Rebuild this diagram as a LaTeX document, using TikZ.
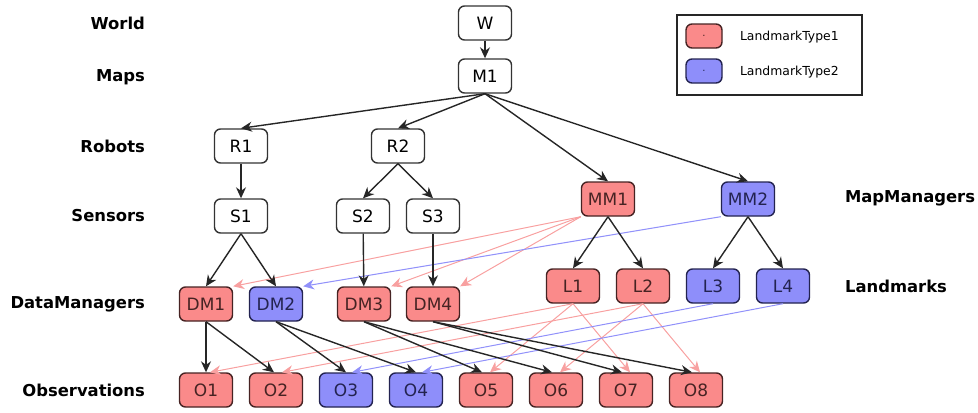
\documentclass[tikz,border=0pt]{standalone}
\usepackage{fontspec}
\setmainfont{DejaVu Sans}
\usetikzlibrary{positioning,arrows.meta}
\definecolor{redfill}{RGB}{250,138,138}
\definecolor{bluefill}{RGB}{142,142,250}
\definecolor{reddraw}{RGB}{70,35,35}
\definecolor{bluedraw}{RGB}{35,35,80}
\definecolor{redline}{RGB}{248,160,160}
\definecolor{blueline}{RGB}{145,145,250}
\tikzstyle{entity} = [rectangle, rounded corners=3pt, minimum width=26.5pt, minimum height=17pt, inner sep=1pt,
                      text centered, draw=black!80, line width=0.7pt, fill=white, font=\fontsize{8.5}{10}\selectfont]
\tikzstyle{typeone} = [entity, fill=redfill, draw=reddraw, text=reddraw]
\tikzstyle{typetwo} = [entity, fill=bluefill, draw=bluedraw, text=bluedraw]
\tikzstyle{level} = [font=\bfseries\fontsize{8.2}{9}\selectfont]
\tikzstyle{arrow} = [line width=0.7pt, black!85, -{Stealth[length=5.5pt,width=5pt]}]
\tikzstyle{redarrow} = [line width=0.5pt, redline, -{Stealth[length=5.5pt,width=5pt]}]
\tikzstyle{bluearrow} = [line width=0.5pt, blueline, -{Stealth[length=5.5pt,width=5pt]}]
\begin{document}
\begin{tikzpicture}[x=0.5pt, y=-0.5pt]
		\useasboundingbox (0,0) rectangle (978,412);

		% Level labels
		\node (lworld) [level, anchor=east] at (152,23) {World};
		\node (lmaps) [level, anchor=east] at (152,77) {Maps};
		\node (lrobots) [level, anchor=east] at (152,146) {Robots};
		\node (lsensors) [level, anchor=east] at (152,216) {Sensors};
		\node (ldata) [level, anchor=east] at (152,304) {DataManagers};
		\node (lobs) [level, anchor=east] at (152,390) {Observations};
		\node (lmapman) [level, anchor=west] at (838,198) {MapManagers};
		\node (llandm) [level, anchor=west] at (838,286) {Landmarks};

		% Legend
		\node (legend) [draw=black!85, line width=0.7pt, minimum width=92.5pt, minimum height=40pt] at (769.5,55) {};
		\node (keyone) [typeone, minimum width=18pt, minimum height=12pt] at (704,36) {\tiny .};
		\node (keytwo) [typetwo, minimum width=18pt, minimum height=12pt] at (704,71) {\tiny .};
		\node (textone) [anchor=west, font=\fontsize{6.2}{7}\selectfont] at (733,37) {LandmarkType1};
		\node (texttwo) [anchor=west, font=\fontsize{6.2}{7}\selectfont] at (733,72) {LandmarkType2};

		% Nodes
		\node (w) [entity] at (485,23) {W};
		\node (m1) [entity] at (485,76) {M1};

		\node (r1) [entity] at (241,146) {R1};
		\node (r2) [entity] at (398,146) {R2};

		\node (s1) [entity] at (241,216) {S1};
		\node (s2) [entity] at (363,216) {S2};
		\node (s3) [entity] at (433,216) {S3};

		\node (mm1) [typeone] at (608,199) {MM1};
		\node (mm2) [typetwo] at (748,199) {MM2};

		\node (l1) [typeone] at (573,286) {L1};
		\node (l2) [typeone] at (643,286) {L2};
		\node (l3) [typetwo] at (713,286) {L3};
		\node (l4) [typetwo] at (783,286) {L4};

		\node (dm1) [typeone] at (206,304) {DM1};
		\node (dm2) [typetwo] at (276,304) {DM2};
		\node (dm3) [typeone] at (364,304) {DM3};
		\node (dm4) [typeone] at (433,304) {DM4};

		\node (o1) [typeone] at (206,390) {O1};
		\node (o2) [typeone] at (276,390) {O2};
		\node (o3) [typetwo] at (346,390) {O3};
		\node (o4) [typetwo] at (416,390) {O4};
		\node (o5) [typeone] at (486,390) {O5};
		\node (o6) [typeone] at (556,390) {O6};
		\node (o7) [typeone] at (626,390) {O7};
		\node (o8) [typeone] at (696,390) {O8};

		% Coloured arrows
		\draw [redarrow] (mm1.south west) -- (dm1.north east);
		\draw [redarrow] (mm1.south west) -- (dm3.north east);
		\draw [redarrow] (mm1.south west) -- (dm4.north east);
		\draw [bluearrow] (mm2.south west) -- (dm2.north east);

		\draw [redarrow] (l1.south) -- ([xshift=2pt]o1.north);
		\draw [redarrow] (l1.south) -- ([xshift=2pt]o5.north);
		\draw [redarrow] (l1.south) -- ([xshift=2pt]o7.north);
		\draw [redarrow] (l2.south) -- ([xshift=3pt]o2.north);
		\draw [redarrow] (l2.south) -- ([xshift=2pt]o6.north);
		\draw [redarrow] (l2.south) -- ([xshift=2pt]o8.north);
		\draw [bluearrow] (l3.south) -- ([xshift=3pt]o3.north);
		\draw [bluearrow] (l4.south) -- ([xshift=3pt]o4.north);

		% Arrows
		\draw [arrow] (w) -- (m1);
		\draw [arrow] (m1.south) -- (r1.north);
		\draw [arrow] (m1.south) -- (r2.north);
		\draw [arrow] (m1.south) -- (mm1.north);
		\draw [arrow] (m1.south) -- (mm2.north);

		\draw [arrow] (r1) -- (s1);
		\draw [arrow] (r2.south) -- (s2.north);
		\draw [arrow] (r2.south) -- (s3.north);

		\draw [arrow] (s1.south) -- (dm1.north);
		\draw [arrow] (s1.south) -- (dm2.north);
		\draw [arrow] (s2) -- (dm3);
		\draw [arrow] (s3) -- (dm4);

		\draw [arrow] (mm1.south) -- (l1.north);
		\draw [arrow] (mm1.south) -- (l2.north);
		\draw [arrow] (mm2.south) -- (l3.north);
		\draw [arrow] (mm2.south) -- (l4.north);

		\draw [arrow] (dm1) -- (o1);
		\draw [arrow] (dm1.south) -- ([xshift=-1pt]o2.north);
		\draw [arrow] (dm2.south) -- (o3.north);
		\draw [arrow] (dm2.south) -- (o4.north);
		\draw [arrow] (dm3.south) -- ([xshift=-2pt]o5.north);
		\draw [arrow] (dm3.south) -- ([xshift=-2pt]o6.north);
		\draw [arrow] (dm4.south) -- ([xshift=-2pt]o7.north);
		\draw [arrow] (dm4.south) -- ([xshift=-2pt]o8.north);
	\end{tikzpicture}
\end{document}
